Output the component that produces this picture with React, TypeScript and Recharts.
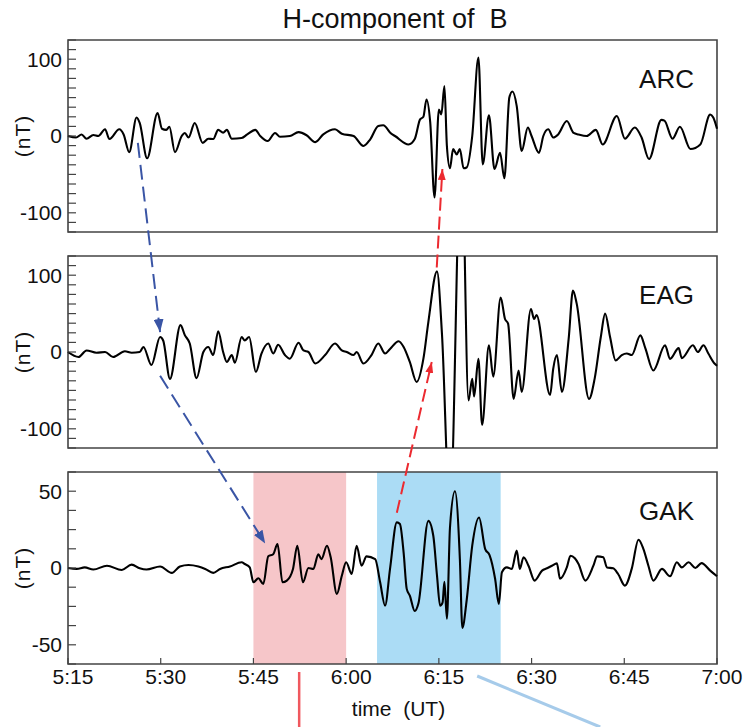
import React from 'react';
import { LineChart, Line, XAxis, YAxis, ReferenceArea } from 'recharts';

// time axis: minutes after 5:15 UT
const TIME_TICKS = [0, 15, 30, 45, 60, 75, 90, 105];

// ARC station, H component (nT)
const ARC_T = [0, 1.3, 2.2, 3, 4.1, 4.9, 6, 6.7, 8.3, 9, 9.9, 11.1, 11.6, 12.8, 14.5, 15.2, 15.9, 16.4, 17.3, 18.4,
  18.9, 19.5, 20.5, 21.8, 22.7, 23.5, 24.3, 25.1, 25.7, 26.5, 28.1, 29, 30.3, 31.1, 32.3, 33.5, 34.3, 35.9, 37.3, 38.6,
  40, 41.3, 43.2, 44.3, 46.2, 47.8, 48.9, 50.2, 51, 52.3, 52.9, 55.1, 56.1, 56.96, 57.5, 58, 58.6, 59.3, 60, 60.4,
  60.9, 61.3, 61.8, 62.3, 62.9, 63.4, 64, 64.5, 65.4, 66.4, 67.1, 68.1, 69, 69.9, 70.6, 71.4, 71.9, 72.6, 73.4, 74.4,
  75, 76.2, 76.9, 77.7, 78.5, 79.3, 80.7, 81.8, 82.6, 83.9, 85.4, 86.5, 88.8, 90.1, 91.7, 92.8, 94, 96, 96.5, 97.8,
  99, 100.7, 102.3, 103.9, 104.4, 105];
const ARC_V = [0, -2, 2, -3.5, 1.3, 0, 8.7, -4, 8.7, 2, -21, 24, 17, -29, 30, 9.5, 8, 12, -21, 0,
  4, -2, 17, -9, -3.5, -4, 8, 4.3, 8, -3.5, -2.6, 2, 8, 0, -6.5, 4, -1, 0, 5, 1,
  -8, 2, 8.7, 3, 0, -13, -4.3, 13, 14, 3, 0, -11, -4, 21.6, 25, 47.6, 18, -80, 34.6, 28,
  65, -13, -42, -17, -24, -17, -42, -41, 0, 102, -37, 27, -43, -22, -55, 50, 58, 39, -19.5, 11,
  0, -22, 0, 8.7, -2, 2, 19.5, 4, 2, 0, 8, -11, 26, -3.5, 11, -2, -30, 21, 20, -3.5,
  12, -17, -11, 28, 24, 9.5];

// EAG station, H component (nT); the big swing near 6:17 runs off the panel
const EAG_T = [0, 1.7, 3, 4.6, 6, 7.3, 9.2, 10.3, 11.6, 12.2, 13.5, 14.9, 15.4, 16.5, 18.2, 18.9, 19.7, 20.8, 21.9, 22.7,
  23.5, 24.3, 25.1, 25.7, 26.5, 27, 28.1, 28.6, 29.3, 30.4, 31.3, 32.4, 33.2, 34, 35.1, 35.9, 37.3, 38.1, 38.9, 40,
  41.6, 43.2, 44.3, 45.1, 46.2, 46.7, 47.8, 49.1, 50.2, 51.3, 52.1, 53.5, 54.3, 55.3, 56.4, 57.5, 58.3, 59.7, 60.5, 61.8,
  63.65, 64.8, 65.4, 65.7, 66.4, 67, 68.1, 68.8, 70, 70.7, 71.2, 72.1, 72.9, 73.4, 74.9, 75.4, 75.8, 78, 78.5, 79.1,
  79.9, 81, 81.7, 82.3, 84.3, 85.2, 86.2, 86.9, 87.7, 88.6, 89.6, 90.4, 91.2, 92.6, 93.4, 94.7, 96.6, 97.4, 98.8, 99.3,
  101.1, 101.9, 102.8, 103.6, 104.6, 105];
const EAG_V = [0, -6.5, 2, -1, 0, -6.5, 1, -1, 0, 6.5, -17, 19.5, 15, -35, 35, 22, 11, -34, 0, 6.5,
  -4, 27, 0, -13, -4, -14, 19.5, 15, 19.5, -26, -2, 11, -2, 9.5, -4, -8.7, 12, 2, 0, -15,
  -4, 11, 2, 0, -4, 0, -15, -4, 11, -2, 4, 14, 6.5, -13, -39, -8.7, 39, 105, 24, -210,
  280, -63, -35, -58, -9, -95, 8.7, -32, 71, 43, 37, -61, -24, -52, 56, 43, 48, -56, -22, -4,
  -52, 17, 80, 63, -61, -35, 19.5, 50, 19.5, -11, -4, -2, -4, 21.6, 5, -24, 8.7, -9, 5, -8,
  8.7, 0, 8.7, -2, -15, -18];

// GAK station, H component (nT)
const GAK_T = [0, 1.4, 2.7, 4.1, 6.3, 8.7, 10.3, 11.6, 12.7, 14.9, 16.8, 18.1, 19.5, 21.1, 22.2, 23.5, 24.6, 26.2, 28.1, 28.6,
  29.4, 30, 30.8, 31.6, 32.4, 33.2, 33.9, 34.7, 35.4, 36.4, 37.1, 38, 38.9, 39.7, 40.5, 41, 41.9, 42.5, 43.5, 44.3,
  45, 45.9, 46.7, 47.5, 48.3, 49.7, 50.5, 51.3, 52.1, 53.2, 53.7, 54.3, 54.8, 55.3, 56.1, 56.7, 58.3, 59.1, 59.7, 60.2,
  60.6, 60.9, 61.3, 61.8, 62.6, 63.4, 63.8, 64.5, 65.4, 66.5, 67.5, 68.2, 69.1, 69.7, 70.2, 71, 71.8, 72.6, 73.1, 73.7,
  74.5, 75.5, 76.7, 77.5, 78.3, 79.1, 79.6, 80.7, 81.3, 82, 82.6, 83.7, 85, 85.6, 86.6, 87.2, 88.2, 89, 90.1, 91.2,
  92.3, 93.1, 93.9, 94.7, 96.1, 97.4, 98.5, 99.3, 100.4, 101.5, 102.5, 103.9, 105];
const GAK_V = [0, -0.6, 0.4, -1, 1.5, -1.3, 2.2, -0.2, -1, 1, -3.2, 1, 2, 1, -0.6, -3.2, -0.6, 1, 3.7, 2.6,
  0.4, -9.3, -6.7, -10.4, 7.6, 9, 15.6, -9.3, -8.2, -0.6, 14.5, -9.3, 0, -0.6, 9, 5.8, 14.5, 7, -16.9, -5,
  3.7, -3.9, 14.5, 1.5, 7.6, 5.8, -9.3, -24.5, -0.6, 29.7, 28.6, 10, -13.6, -18, -28, -23, 30.7, 21, -5, -24.5,
  -22.5, -9, -33, 26.4, 50, 5.8, -39, -21, 14.5, 32.9, 12.3, 8.4, -7, -23.4, -2.8, 0.4, -0.6, 11.3, -0.6, 7,
  1.5, -8.2, -1.7, -0.2, 1.5, 3, -7, 0.4, 8, 6.3, 2.6, -8.2, 1.5, 7.6, 7, 0.4, -0.2, -3.9, -11.5, -0.6,
  18.4, 12.3, 1.5, -8.2, -0.6, -5.4, 3.7, 0.4, 3.7, 0, 3.2, -1.7, -5.4];

// shaded intervals in the GAK panel (minutes after 5:15)
const PINK_SPAN = [30, 45];
const BLUE_SPAN = [50, 70];

const FONT = '"Liberation Sans", Arial, Helvetica, sans-serif';
const W = 744;
const H = 727;
const LEFT = 68;
const RIGHT = 717;
const PLOT_H = 192;
const PAD = 10;
const T_MAX = 105;

const panels = [
  { name: 'ARC', t: ARC_T, v: ARC_V, domain: [-125, 125], major: 100, top: 40 },
  { name: 'EAG', t: EAG_T, v: EAG_V, domain: [-125, 125], major: 100, top: 256 },
  { name: 'GAK', t: GAK_T, v: GAK_V, domain: [-62.5, 62.5], major: 50, top: 472 },
];

const fmtTime = (m: number) => {
  const total = 315 + m;
  const h = Math.floor(total / 60);
  const mm = total % 60;
  return `${h}:${mm < 10 ? '0' : ''}${mm}`;
};

const xOf = (t: number) => LEFT + (t / T_MAX) * (RIGHT - LEFT);
const yOf = (p: number, v: number) => {
  const [lo, hi] = panels[p].domain;
  return panels[p].top + ((hi - v) / (hi - lo)) * PLOT_H;
};

const YLab = ({ viewBox }: any) => {
  const x = viewBox.x + 22;
  const y = viewBox.y + viewBox.height / 2;
  return (
    <text x={x} y={y} transform={`rotate(-90, ${x}, ${y})`} textAnchor="middle" dominantBaseline="central"
      fontSize={21} letterSpacing={1} fontFamily={FONT} fill="#111">(nT)</text>
  );
};

const PanelName = ({ viewBox, name }: any) => (
  <text x={viewBox.x + viewBox.width - 23} y={viewBox.y + 48} textAnchor="end" fontSize={26} fontFamily={FONT} fill="#111">
    {name}
  </text>
);

const Panel = ({ idx }: { idx: number }) => {
  const cfg = panels[idx];
  const last = idx === panels.length - 1;
  const data = cfg.t.map((t, i) => ({ t, v: cfg.v[i] }));
  const [lo, hi] = cfg.domain;
  const yTicks: number[] = [];
  for (let y = lo; y <= hi + 1e-6; y += 12.5) yTicks.push(y);
  const xAxisH = last ? 63 : 10;

  return (
    <div style={{ position: 'absolute', left: 0, top: cfg.top - PAD }}>
      <LineChart width={W} height={PAD + PLOT_H + xAxisH} data={data}
        margin={{ top: PAD, right: W - RIGHT, bottom: 0, left: 0 }}>
        <XAxis type="number" dataKey="t" domain={[0, T_MAX]} ticks={TIME_TICKS} interval={0}
          axisLine={false} tickSize={-6} tickMargin={last ? 11 : 0} height={xAxisH}
          tickLine={{ stroke: '#444', strokeWidth: 1.2 }}
          tick={last ? { fontSize: 21, fill: '#111', fontFamily: FONT, dx: 5 } : false}
          tickFormatter={fmtTime}
          label={last ? { value: 'time\u00A0 (UT)', position: 'insideBottom', offset: 11, dx: 6, fontSize: 21, fill: '#111', fontFamily: FONT } : undefined}
        />
        <YAxis type="number" domain={cfg.domain} ticks={yTicks} interval={0} allowDataOverflow width={LEFT}
          axisLine={false} tickSize={-8} tickMargin={14}
          tickLine={{ stroke: '#444', strokeWidth: 1.2 }}
          tick={{ fontSize: 21, fill: '#111', fontFamily: FONT }}
          tickFormatter={(v: number) => (Math.abs(v % cfg.major) < 1e-6 ? String(v) : '')}
          label={<YLab />}
        />
        {last && <ReferenceArea x1={PINK_SPAN[0]} x2={PINK_SPAN[1]} y1={lo} y2={hi} fill="#f6c6c9" fillOpacity={1} stroke="none" />}
        {last && <ReferenceArea x1={BLUE_SPAN[0]} x2={BLUE_SPAN[1]} y1={lo} y2={hi} fill="#abdcf5" fillOpacity={1} stroke="none" />}
        <Line type="monotone" dataKey="v" stroke="#000" strokeWidth={2.1} dot={false} isAnimationActive={false} />
        <ReferenceArea x1={0} x2={T_MAX} y1={lo} y2={hi} fill="none" stroke="#444" strokeWidth={1.6}
          label={<PanelName name={cfg.name} />} />
      </LineChart>
    </div>
  );
};

// propagation arrows, given in data terms: panel index, minutes, nT
const ARROWS = [
  { from: [0, 11.3, -9], to: [1, 14.9, 26], color: 'blue' },
  { from: [1, 14.9, -31], to: [2, 31.9, 16], color: 'blue' },
  { from: [2, 53.2, 36], to: [1, 58.85, -13], color: 'red' },
  { from: [1, 59.66, 110], to: [0, 60.57, -43], color: 'red' },
];

const Overlay = () => (
  <svg width={W} height={H} style={{ position: 'absolute', left: 0, top: 0, pointerEvents: 'none' }}>
    <defs>
      <marker id="head-blue" viewBox="0 0 13 10" refX="13" refY="5" markerWidth="13" markerHeight="10"
        markerUnits="userSpaceOnUse" orient="auto">
        <path d="M0,0 L13,5 L0,10 z" fill="#3a55a5" />
      </marker>
      <marker id="head-red" viewBox="0 0 11 8" refX="11" refY="4" markerWidth="11" markerHeight="8"
        markerUnits="userSpaceOnUse" orient="auto">
        <path d="M0,0 L11,4 L0,8 z" fill="#ec2a30" />
      </marker>
    </defs>
    <text x={395} y={28} textAnchor="middle" fontSize={27} fontFamily={FONT} fill="#111">
      {'H-component of\u00A0 B'}
    </text>
    {ARROWS.map((a, i) => (
      <line key={i}
        x1={xOf(a.from[1])} y1={yOf(a.from[0], a.from[2])}
        x2={xOf(a.to[1])} y2={yOf(a.to[0], a.to[2])}
        stroke={a.color === 'blue' ? '#3a55a5' : '#ec2a30'} strokeWidth={2}
        strokeDasharray={a.color === 'blue' ? '15 7' : '13 6'}
        markerEnd={`url(#head-${a.color})`} />
    ))}
    <line x1={xOf(37.4)} y1={672} x2={xOf(37.4)} y2={H} stroke="#f0585e" strokeWidth={2.5} />
    <line x1={xOf(66.2)} y1={676} x2={xOf(86.1)} y2={H} stroke="#a6cbea" strokeWidth={3} />
  </svg>
);

export default function App() {
  return (
    <div style={{ position: 'absolute', left: 0, top: 0, width: W, height: H, background: '#fff' }}>
      {panels.map((_, i) => <Panel key={i} idx={i} />)}
      <Overlay />
    </div>
  );
}
